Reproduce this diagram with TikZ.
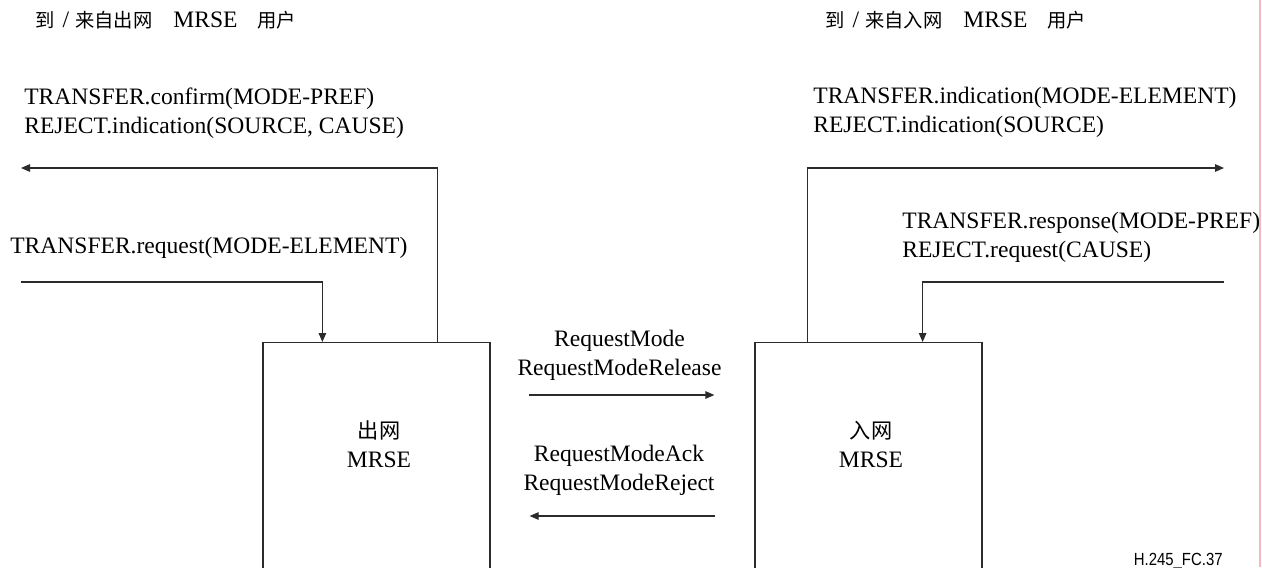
\documentclass[tikz,border=0pt]{standalone}
\usepackage{fontspec}
\setmainfont{Liberation Serif}
\newfontfamily\zhfont[Scale=0.82]{Noto Sans CJK SC}
\newfontfamily\zhboxfont[Scale=0.9]{Noto Sans CJK SC}
\newfontfamily\figidfont[FakeStretch=0.85]{Liberation Sans}
\usetikzlibrary{arrows.meta,positioning,calc}
\definecolor{lineink}{HTML}{2B2B2B}
\definecolor{pageedge}{HTML}{F4B8BE}
\newcommand{\userhdr}[1]{{\zhfont 到}\hspace{0.16cm}/\hspace{0.12cm}{\zhfont 来自#1}\hspace{0.42cm}MRSE\hspace{0.4cm}{\zhfont 用户}}

\begin{document}
\begin{tikzpicture}[
  font=\fontsize{13.4}{16.5}\selectfont,
  mrse/.style={draw=lineink, line width=0.7pt, minimum width=4.54cm, minimum height=5cm, anchor=north, inner sep=0pt},
  sig/.style={-{Triangle[length=0.18cm, width=0.15cm]}, draw=lineink, line width=0.7pt},
  prim/.style={align=left, anchor=base west, inner sep=0pt},
  msg/.style={align=center, anchor=base, inner sep=0pt},
  hdr/.style={anchor=base west, inner sep=0pt},
]
\useasboundingbox (0,0) rectangle (25.24,-11.34);
\clip (0,0) rectangle (25.24,-11.34);
% user side headings
\node[hdr] (outhdr) at (0.70,-0.54) {\userhdr{出网}};
\node[hdr] (inhdr) at (16.50,-0.54) {\userhdr{入网}};
% the two signalling entities, open at the bottom
\node[mrse] (outbox) at (7.53,-6.84) {};
\node[mrse] (inbox) at (17.37,-6.84) {};
\node[msg] (outlbl) at (7.58,-9.34) {{\zhboxfont 出网}\\MRSE};
\node[msg] (inlbl) at (17.42,-9.34) {{\zhboxfont 入网}\\MRSE};
% primitives (base = last line)
\node[prim] (conflbl) at (0.48,-2.66) {TRANSFER.confirm(MODE-PREF)\\REJECT.indication(SOURCE, CAUSE)};
\node[prim] (reqlbl) at (0.20,-5.06) {TRANSFER.request(MODE-ELEMENT)};
\node[prim] (indlbl) at (16.26,-2.64) {TRANSFER.indication(MODE-ELEMENT)\\REJECT.indication(SOURCE)};
\node[prim] (resplbl) at (18.04,-5.14) {TRANSFER.response(MODE-PREF)\\REJECT.request(CAUSE)};
\coordinate (confend) at (0.42,-3.36);
\coordinate (reqstart) at (0.42,-5.64);
\coordinate (indend) at (24.48,-3.36);
\coordinate (respstart) at (24.48,-5.64);
\draw[sig] ([xshift=-1.06cm]outbox.north east) |- (confend);
\draw[sig] (reqstart) -| ([xshift=1.2cm]outbox.north west);
\draw[sig] ([xshift=1.06cm]inbox.north west) |- (indend);
\draw[sig] (respstart) -| ([xshift=-1.2cm]inbox.north east);
% messages between the peers
\node[msg] (fwdlbl) at (12.39,-7.50) {RequestMode\\RequestModeRelease};
\node[msg] (backlbl) at (12.38,-9.80) {RequestModeAck\\RequestModeReject};
\draw[sig] ([shift={(0.76,-1.06)}]outbox.north east) -- ([shift={(-0.80,-1.06)}]inbox.north west);
\draw[sig] ([shift={(-0.78,-3.48)}]inbox.north west) -- ([shift={(0.78,-3.48)}]outbox.north east);
\node[anchor=base east, inner sep=0pt, font=\figidfont\fontsize{10}{12}\selectfont] (figid) at (24.46,-11.30) {H.245\_FC.37};
\draw[draw=pageedge, line width=0.6pt] (25.2,0) -- (25.2,-11.34);
\end{tikzpicture}
\end{document}
